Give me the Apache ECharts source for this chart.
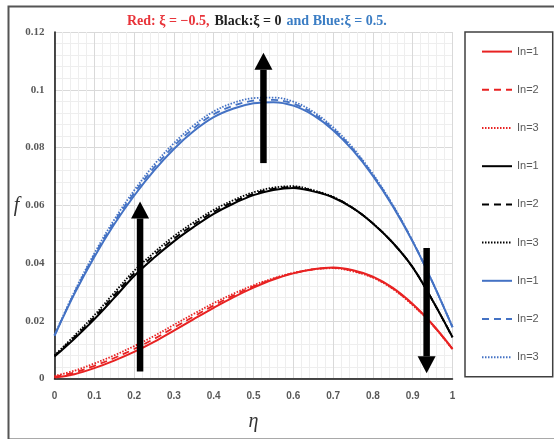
<!DOCTYPE html>
<html><head><meta charset="utf-8">
<script src="https://cdn.jsdelivr.net/npm/echarts@6/dist/echarts.min.js"></script>
<style>html,body{margin:0;padding:0;background:#fff}#c{width:554px;height:439px}</style>
</head><body><div id="c"></div>
<script>
const eta = [0,0.05,0.1,0.15,0.2,0.25,0.3,0.35,0.4,0.45,0.5,0.55,0.6,0.65,0.7,0.75,0.8,0.85,0.9,0.95,1];
const red1 = [0.0003,0.0015,0.0036,0.0062,0.0092,0.0127,0.0166,0.0206,0.0245,0.0282,0.0315,0.0343,0.0364,0.0378,0.0384,0.0375,0.0353,0.0314,0.0258,0.0187,0.0103];
const red2 = [0.0006,0.0021,0.0044,0.0071,0.0102,0.0137,0.0176,0.0215,0.0253,0.0288,0.0319,0.0345,0.0365,0.0378,0.0383,0.0373,0.0351,0.0312,0.0256,0.0186,0.0102];
const red3 = [0.0009,0.0027,0.0052,0.008,0.0112,0.0147,0.0186,0.0224,0.0261,0.0294,0.0323,0.0347,0.0366,0.0378,0.0382,0.0371,0.0349,0.031,0.0254,0.0185,0.0101];
const black1 = [0.0076,0.0138,0.0205,0.0279,0.0355,0.0418,0.0475,0.0525,0.057,0.0606,0.0635,0.0653,0.066,0.0648,0.0627,0.059,0.0537,0.047,0.0385,0.027,0.0143];
const black2 = [0.0078,0.0143,0.0212,0.0288,0.0364,0.0427,0.0484,0.0533,0.0577,0.0612,0.064,0.0657,0.0663,0.065,0.0628,0.059,0.0537,0.047,0.0385,0.027,0.0143];
const black3 = [0.008,0.0148,0.0219,0.0297,0.0373,0.0436,0.0493,0.0541,0.0584,0.0618,0.0645,0.0661,0.0666,0.0652,0.0629,0.059,0.0537,0.047,0.0385,0.027,0.0143];
const blue1 = [0.0148,0.0293,0.0421,0.0534,0.0633,0.072,0.0795,0.0857,0.0905,0.0935,0.0953,0.0957,0.0945,0.0912,0.086,0.079,0.0702,0.0597,0.0474,0.0333,0.0178];
const blue2 = [0.0149,0.0297,0.0427,0.0542,0.0642,0.073,0.0805,0.0867,0.0915,0.0945,0.0962,0.0965,0.0952,0.0918,0.0865,0.0794,0.0705,0.0599,0.0475,0.0333,0.0178];
const blue3 = [0.015,0.0301,0.0433,0.055,0.0651,0.074,0.0815,0.0877,0.0925,0.0955,0.0971,0.0973,0.0959,0.0924,0.087,0.0798,0.0708,0.0601,0.0476,0.0333,0.0178];
const legendNames = ['In=1','In=2','In=3'];
const xTicks = {min:0, max:1, interval:0.1};
const yTicks = {min:0, max:0.12, interval:0.02};
// arrows: [eta, f start, f tip]
const arrows = [[0.525,0.0746,0.1128],[0.215,0.0024,0.0613],[0.935,0.0452,0.0018]];

const RED='#e82222', BLACK='#000000', BLUE='#4472c4';
const groups = [
  {key:'r', color:RED, data:[red1,red2,red3]},
  {key:'k', color:BLACK, data:[black1,black2,black3]},
  {key:'b', color:BLUE, data:[blue1,blue2,blue3]}
];
const types = ['solid',[7,5],[1.5,1.5]];
const series = [];
const legendData = [];
groups.forEach(g=>{
  g.data.forEach((arr,i)=>{
    const name = g.key+' '+legendNames[i];
    legendData.push(name);
    series.push({
      name, type:'line', smooth:0.35, symbol:'none',
      data: eta.map((x,j)=>[x,arr[j]]),
      lineStyle:{color:g.color,width:i===0?2:1.8,type:types[i]},
      itemStyle:{color:g.color},
      z:3-i
    });
  });
});
series.push({
  type:'custom', name:'arrows', z:10, silent:true,
  data: arrows,
  encode:{x:0,y:[1,2]},
  renderItem:function(params,api){
    const x=api.value(0), y0=api.value(1), y1=api.value(2);
    const p0=api.coord([x,y0]), p1=api.coord([x,y1]);
    const dir = p1[1]<p0[1]?-1:1;
    const headH=17, headW=18, shaftW=6.5;
    const baseY = p1[1]-dir*headH;
    const top=Math.min(p0[1],baseY), h=Math.abs(baseY-p0[1]);
    return {type:'group',children:[
      {type:'rect',shape:{x:p0[0]-shaftW/2,y:top,width:shaftW,height:h},style:{fill:'#000'}},
      {type:'polygon',shape:{points:[[p1[0],p1[1]],[p1[0]-headW/2,baseY],[p1[0]+headW/2,baseY]]},style:{fill:'#000'}}
    ]};
  }
});

const chart = echarts.init(document.getElementById('c'),null,{renderer:'canvas'});
chart.setOption({
  animation:false,
  backgroundColor:'#fff',
  title:{
    left:122, top:7,
    text:'{r|Red: ξ = −0.5,} {k|Black:ξ = 0} {b|and Blue:ξ = 0.5.}',
    textStyle:{rich:{
      r:{color:'#e8343a',fontFamily:'Liberation Serif',fontWeight:'bold',fontSize:14},
      k:{color:'#222',fontFamily:'Liberation Serif',fontWeight:'bold',fontSize:14},
      b:{color:'#3b7dc4',fontFamily:'Liberation Serif',fontWeight:'bold',fontSize:14}
    }}
  },
  grid:{left:54.5, right:101.5, top:32, bottom:60.5},
  legend:{
    data:legendData, orient:'vertical', left:465, top:32,
    itemWidth:30, itemHeight:14, itemGap:27,
    padding:[14,14,14,16],
    borderColor:'#404040', borderWidth:1.5, borderRadius:0,
    formatter:n=>n.split(' ')[1],
    itemStyle:{opacity:0},
    textStyle:{color:'#595959',fontFamily:'Liberation Sans',fontSize:11},
    selectedMode:false
  },
  xAxis:{
    type:'value', min:xTicks.min, max:xTicks.max, interval:xTicks.interval,
    name:'η', nameLocation:'middle', nameGap:33,
    nameTextStyle:{fontFamily:'Liberation Serif',fontStyle:'italic',fontSize:20,color:'#333'},
    axisLine:{show:true,onZero:false,lineStyle:{color:'#111',width:1.5}},
    axisTick:{show:false},
    axisLabel:{color:'#595959',fontFamily:'Liberation Sans',fontWeight:'bold',fontSize:10,margin:13},
    splitLine:{show:true,lineStyle:{color:'#d9d9d9',width:1}},
    minorTick:{show:false,splitNumber:5},
    minorSplitLine:{show:true,lineStyle:{color:'#eeeeee',width:1}}
  },
  yAxis:{
    type:'value', min:yTicks.min, max:yTicks.max, interval:yTicks.interval,
    name:'f', nameLocation:'middle', nameGap:32, nameRotate:0,
    nameTextStyle:{fontFamily:'Liberation Serif',fontStyle:'italic',fontSize:20,color:'#333'},
    axisLine:{show:true,lineStyle:{color:'#111',width:1.5}},
    axisTick:{show:false},
    axisLabel:{color:'#595959',fontFamily:'Liberation Serif',fontWeight:'bold',fontSize:11,margin:10},
    splitLine:{show:true,lineStyle:{color:'#d9d9d9',width:1}},
    minorTick:{show:false,splitNumber:5},
    minorSplitLine:{show:true,lineStyle:{color:'#eeeeee',width:1}}
  },
  graphic:[{type:'rect',left:6,top:4,shape:{width:580,height:433},style:{fill:null,stroke:'#555',lineWidth:2},silent:true,z:-1}],
  series
});
</script></body></html>
